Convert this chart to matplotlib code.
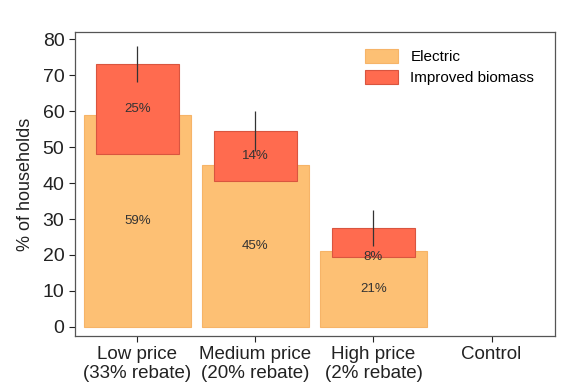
import matplotlib
matplotlib.use("Agg")
import matplotlib.pyplot as plt
import numpy as np

plt.rcParams['font.family'] = ['Liberation Sans', 'DejaVu Sans']

groups = ["Low price\n(33% rebate)", "Medium price\n(20% rebate)",
          "High price\n(2% rebate)", "Control"]
electric = [59, 45, 21]
biomass = [25, 14, 8]
biomass_top = [73, 54.5, 27.5]
biomass_err = [5, 5.5, 5]

x = np.arange(1, len(electric) + 1)
bottoms = [t - v for t, v in zip(biomass_top, biomass)]

fig = plt.figure(figsize=(5.76, 3.91), dpi=100)
ax = fig.add_axes([0.130, 0.141, 0.834, 0.777])

ax.bar(x, electric, width=0.9, color="#FDC074", edgecolor="#F6B468",
       linewidth=0.8, label="Electric")
ax.bar(x, biomass, bottom=bottoms, width=0.7, color="#FF6B4F",
       edgecolor="#D9553F", linewidth=0.8, label="Improved biomass")
ax.errorbar(x, biomass_top, yerr=biomass_err, fmt="none", ecolor="#333333",
            elinewidth=0.9, capsize=0)

for i in range(len(electric)):
    ax.text(x[i], electric[i] / 2, f"{electric[i]}%", ha="center",
            va="center", fontsize=9.5, color="#333333")
# biomass labels sit mid-bar, the last one lower down near its base
red_label_y = [bottoms[0] + biomass[0] / 2, bottoms[1] + biomass[1] / 2, bottoms[2]]
for i in range(len(biomass)):
    ax.text(x[i], red_label_y[i], f"{biomass[i]}%", ha="center",
            va="center", fontsize=9.5, color="#333333")

ax.set_xlim(0.47, 4.54)
ax.set_ylim(-2.5, 82)
ax.set_xticks(range(1, len(groups) + 1))
ax.set_xticklabels(groups, fontsize=13.5, color="#222222", linespacing=1.1)
ax.set_yticks(range(0, 81, 10))
ax.tick_params(axis="y", labelsize=14, colors="#222222", length=4)
ax.tick_params(axis="x", length=4, colors="#222222", pad=3.5)
ax.set_ylabel("% of households", fontsize=13, color="#222222", labelpad=6)
for s in ax.spines.values():
    s.set_color("#555555")
    s.set_linewidth(0.9)

ax.legend(loc="upper right", bbox_to_anchor=(0.985, 0.99), frameon=False,
          fontsize=11, handlelength=2.2, handleheight=1.0,
          labelspacing=0.4)

fig.savefig("out.png", dpi=100)
